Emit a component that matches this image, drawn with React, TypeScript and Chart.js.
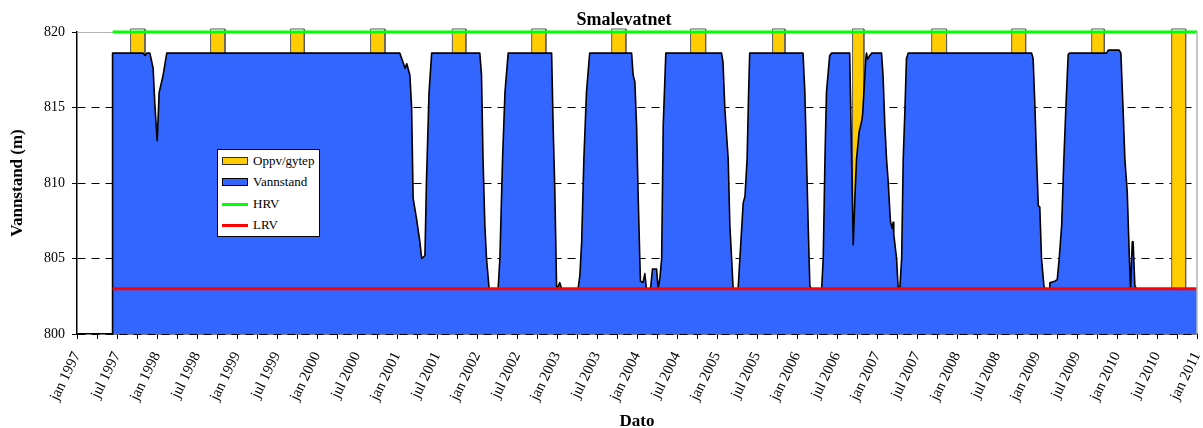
import React, { useEffect, useRef } from 'react';
import { Chart, registerables } from 'chart.js';

Chart.register(...registerables);

const FONT = "'Liberation Serif', 'Times New Roman', serif";
const titleText = 'Smalevatnet';
const xTitle = 'Dato';
const yTitle = 'Vannstand (m)';
const seriesNames = ['Oppv/gytep', 'Vannstand', 'HRV', 'LRV'];

const axisStart = 1997; // months counted from jan 1997
const xMin = 0;
const xMax = 168;
const yMin = 800;
const yMax = 820;
const yStep = 5;

const xTickLabels = [
  'jan 1997', 'jul 1997', 'jan 1998', 'jul 1998', 'jan 1999', 'jul 1999', 'jan 2000', 'jul 2000',
  'jan 2001', 'jul 2001', 'jan 2002', 'jul 2002', 'jan 2003', 'jul 2003', 'jan 2004', 'jul 2004',
  'jan 2005', 'jul 2005', 'jan 2006', 'jul 2006', 'jan 2007', 'jul 2007', 'jan 2008', 'jul 2008',
  'jan 2009', 'jul 2009', 'jan 2010', 'jul 2010', 'jan 2011',
];

const HRV = 820;
const LRV = 803;
const regStart = '1997-06-11';
const regEnd = '2011-01-01';

const levelDates = [
  '1997-06-11', '1997-06-11', '1997-10-29', '1997-11-07', '1997-11-16', '1997-11-29', '1997-12-14', '1997-12-22',
  '1998-01-02', '1998-01-11', '1998-01-29', '1998-02-14',
  '2001-01-14', '2001-01-29', '2001-02-07', '2001-02-14', '2001-02-27', '2001-03-07', '2001-03-14', '2001-03-30',
  '2001-04-14', '2001-04-22', '2001-05-07', '2001-05-14', '2001-05-26', '2001-06-07',
  '2002-01-14', '2002-01-22', '2002-01-29', '2002-02-06', '2002-02-13', '2002-02-24', '2002-04-06', '2002-04-14',
  '2002-04-26', '2002-05-07', '2002-05-22',
  '2002-12-07', '2002-12-14', '2002-12-22', '2002-12-30', '2003-01-02', '2003-01-14', '2003-01-22', '2003-04-06',
  '2003-04-14', '2003-04-22', '2003-05-02', '2003-05-14', '2003-05-29',
  '2003-12-07', '2003-12-14', '2003-12-22', '2003-12-30', '2004-01-06', '2004-01-14', '2004-01-17', '2004-01-29',
  '2004-02-06', '2004-02-13', '2004-03-02', '2004-03-11', '2004-03-30', '2004-04-06', '2004-04-14', '2004-04-22',
  '2004-04-29', '2004-05-11',
  '2005-01-22', '2005-01-29', '2005-02-06', '2005-02-20', '2005-02-27', '2005-03-07', '2005-03-14', '2005-04-06',
  '2005-04-14', '2005-04-29', '2005-05-07', '2005-05-17', '2005-05-24', '2005-05-29',
  '2006-01-29', '2006-02-06', '2006-02-13', '2006-02-20', '2006-02-27', '2006-03-04', '2006-04-22', '2006-04-29',
  '2006-05-07', '2006-05-14', '2006-05-29', '2006-06-07',
  '2006-08-29', '2006-09-14', '2006-09-22', '2006-09-29', '2006-10-11', '2006-10-22', '2006-10-27', '2006-11-04',
  '2006-11-11', '2006-11-14', '2006-11-19', '2006-11-29', '2006-12-07',
  '2007-01-22', '2007-01-29', '2007-02-06', '2007-02-13', '2007-02-20', '2007-02-27', '2007-03-02', '2007-03-10',
  '2007-03-14', '2007-03-17', '2007-03-30', '2007-04-06', '2007-04-14', '2007-04-22', '2007-04-29', '2007-05-07',
  '2007-05-14', '2007-05-22',
  '2008-12-07', '2008-12-14', '2008-12-22', '2008-12-30', '2009-01-07', '2009-01-14', '2009-01-22', '2009-02-02',
  '2009-02-06', '2009-02-24', '2009-02-27', '2009-03-22', '2009-04-02', '2009-04-11', '2009-04-22', '2009-05-02',
  '2009-05-11', '2009-05-22', '2009-05-29',
  '2009-11-14', '2009-11-22', '2010-01-11', '2010-01-19', '2010-01-29', '2010-02-06', '2010-02-16', '2010-02-25',
  '2010-03-02', '2010-03-10', '2010-03-14', '2010-03-22', '2010-03-29', '2011-01-01',
];

const levelValues = [
  800, 818.6, 818.6, 818.45, 818.6, 818.6, 817.6, 815.2,
  812.8, 816.0, 817.1, 818.6,
  818.6, 818.0, 817.6, 817.9, 817.15, 815.0, 809.0, 807.6,
  806.1, 805.0, 805.2, 810.1, 816.0, 818.6,
  818.6, 817.15, 811.6, 807.2, 805.0, 803.0, 803.0, 805.0,
  811.6, 816.0, 818.6,
  818.6, 813.8, 809.4, 803.2, 803.0, 803.4, 803.0, 803.0,
  803.9, 806.1, 811.6, 816.0, 818.6,
  818.6, 817.15, 816.7, 813.8, 809.4, 805.0, 803.5, 803.4,
  804.0, 803.0, 803.0, 804.3, 804.3, 803.0, 803.7, 805.0,
  813.8, 818.6,
  818.6, 818.0, 814.9, 811.6, 807.2, 805.0, 803.0, 803.0,
  805.0, 808.7, 809.1, 811.6, 816.0, 818.6,
  818.6, 816.0, 811.6, 807.2, 803.2, 803.0, 803.0, 805.0,
  811.6, 816.0, 818.45, 818.6,
  818.6, 805.9, 809.2, 811.6, 813.4, 814.05, 814.5, 816.5,
  818.3, 818.6, 818.2, 818.45, 818.6,
  818.6, 817.15, 813.8, 811.6, 810.1, 808.1, 807.4, 807.0,
  807.4, 806.6, 805.0, 803.1, 803.1, 805.0, 811.6, 814.9,
  818.25, 818.6,
  818.6, 818.25, 815.2, 811.6, 808.5, 808.4, 805.0, 803.2,
  803.0, 803.0, 803.4, 803.5, 803.6, 805.0, 807.2, 811.6,
  814.9, 818.5, 818.6,
  818.6, 818.8, 818.8, 818.6, 815.0, 811.6, 809.4, 805.0,
  803.0, 806.1, 806.1, 803.2, 803.0, 803.0,
];

const spawnStart = [
  '1997-09-02', '1998-09-02', '1999-09-02', '2000-09-02', '2001-09-10', '2002-09-07', '2003-09-07',
  '2004-09-02', '2005-09-11', '2006-09-11', '2007-09-07', '2008-09-07', '2009-09-07', '2010-09-07',
];
const spawnEnd = [
  '1997-11-07', '1998-11-07', '1999-11-04', '2000-11-07', '2001-11-11', '2002-11-11', '2003-11-11',
  '2004-11-10', '2005-11-07', '2006-11-02', '2007-11-14', '2008-11-10', '2009-11-04', '2010-11-10',
];
const spawnTop = 820.2;

const COLORS = {
  spawn: '#FFCC00',
  spawnBorder: '#5c5c5c',
  level: '#3366FF',
  hrv: '#00FF00',
  lrv: '#FF0000',
};

function toMonths(d: string): number {
  const [y, m, day] = d.split('-').map(Number);
  const dim = new Date(y, m, 0).getDate();
  return (y - axisStart) * 12 + (m - 1) + (day - 1) / dim;
}

const framePlugin = {
  id: 'plotFrame',
  beforeDatasetsDraw(chart: any) {
    const { ctx, chartArea } = chart;
    ctx.save();
    ctx.strokeStyle = '#b4b4b4';
    ctx.lineWidth = 1;
    ctx.beginPath();
    ctx.moveTo(chartArea.left, chartArea.top + 0.5);
    ctx.lineTo(chartArea.right, chartArea.top + 0.5);
    ctx.stroke();
    ctx.restore();
  },
  afterDatasetsDraw(chart: any) {
    const { ctx, chartArea } = chart;
    ctx.save();
    ctx.strokeStyle = '#b4b4b4';
    ctx.lineWidth = 1.5;
    ctx.beginPath();
    ctx.moveTo(chartArea.right, chartArea.top);
    ctx.lineTo(chartArea.right, chartArea.bottom);
    ctx.stroke();
    ctx.restore();
  },
};

const titlePlugin = {
  id: 'mainTitle',
  afterDraw(chart: any) {
    const { ctx } = chart;
    ctx.save();
    ctx.font = `bold 18px ${FONT}`;
    ctx.fillStyle = '#000';
    ctx.textAlign = 'center';
    ctx.textBaseline = 'alphabetic';
    ctx.fillText(titleText, 624, 25);
    ctx.restore();
  },
};

export default function App() {
  const canvasRef = useRef<HTMLCanvasElement | null>(null);

  useEffect(() => {
    if (!canvasRef.current) return;
    Chart.defaults.font.family = FONT;
    Chart.defaults.color = '#000';

    const levelData = levelDates.map((d, i) => ({ x: toMonths(d), y: levelValues[i] }));
    const spawnData: { x: number; y: number | null }[] = [];
    spawnStart.forEach((s, i) => {
      const a = toMonths(s);
      const b = toMonths(spawnEnd[i]);
      spawnData.push({ x: a, y: yMin }, { x: a, y: spawnTop }, { x: b, y: spawnTop }, { x: b, y: yMin }, { x: b, y: null });
    });
    const hrvData = [{ x: toMonths(regStart), y: HRV }, { x: toMonths(regEnd), y: HRV }];
    const lrvData = [{ x: toMonths(regStart), y: LRV }, { x: toMonths(regEnd), y: LRV }];

    const chart = new Chart(canvasRef.current, {
      type: 'line',
      data: {
        datasets: [
          {
            label: seriesNames[0], data: spawnData as any, order: 4, fill: 'start',
            backgroundColor: COLORS.spawn, borderColor: COLORS.spawnBorder, borderWidth: 1,
            pointRadius: 0, tension: 0, spanGaps: false, clip: 6 as any,
          },
          {
            label: seriesNames[1], data: levelData, order: 3, fill: 'start',
            backgroundColor: COLORS.level, borderColor: '#000', borderWidth: 1.6,
            pointRadius: 0, tension: 0, borderJoinStyle: 'round',
          },
          {
            label: seriesNames[2], data: hrvData, order: 2, fill: false,
            borderColor: COLORS.hrv, borderWidth: 3, pointRadius: 0, clip: 4 as any,
          },
          {
            label: seriesNames[3], data: lrvData, order: 1, fill: false,
            borderColor: COLORS.lrv, borderWidth: 3, pointRadius: 0,
          },
        ],
      },
      options: {
        animation: false,
        responsive: false,
        events: [],
        layout: { padding: { left: 0, right: 6, top: 32, bottom: 0 } },
        plugins: {
          legend: { display: false },
          tooltip: { enabled: false },
          title: { display: false },
        },
        scales: {
          x: {
            type: 'linear',
            min: xMin,
            max: xMax,
            z: 1,
            afterFit: (s: any) => { s.height = 94; s.paddingLeft = 0; s.paddingRight = 0; },
            ticks: {
              stepSize: 3,
              autoSkip: false,
              minRotation: 64,
              maxRotation: 64,
              padding: 10,
              color: '#000',
              font: { size: 15, family: FONT },
              callback: (v: any) => (Number(v) % 6 === 0 ? xTickLabels[Number(v) / 6] : ''),
            },
            grid: { drawOnChartArea: false, drawTicks: true, tickLength: 5, color: '#000', tickColor: '#000' },
            border: { display: true, color: '#000', width: 1.5 },
            title: {
              display: true, text: xTitle, color: '#000',
              font: { size: 17, weight: 'bold', family: FONT, lineHeight: 0.8 },
              padding: { top: 0, bottom: 0 },
            },
          },
          y: {
            min: yMin,
            max: yMax,
            afterFit: (s: any) => { s.width = 77; },
            ticks: { stepSize: yStep, padding: 7, color: '#000', font: { size: 14, family: FONT } },
            grid: { color: '#000', lineWidth: 1, tickLength: 5, tickColor: '#000', tickBorderDash: [] } as any,
            border: { display: true, dash: [8, 6], color: '#000', width: 1.5 },
            title: {
              display: true, text: yTitle, color: '#000', align: 'center',
              font: { size: 17, weight: 'bold', family: FONT },
              padding: { top: 7, bottom: 0 },
            },
          },
        },
      },
      plugins: [framePlugin, titlePlugin],
    });
    return () => chart.destroy();
  }, []);

  const legendRows = [
    { name: seriesNames[0], kind: 'box', color: COLORS.spawn, border: '#333' },
    { name: seriesNames[1], kind: 'box', color: COLORS.level, border: '#000' },
    { name: seriesNames[2], kind: 'line', color: COLORS.hrv, border: '' },
    { name: seriesNames[3], kind: 'line', color: COLORS.lrv, border: '' },
  ];
  const rowCenters = [11.7, 33, 55.3, 76.3];

  return (
    <div style={{ position: 'absolute', left: 0, top: 0, width: 1203, height: 428 }}>
      <canvas ref={canvasRef} width={1203} height={428} style={{ width: 1203, height: 428, display: 'block' }} />
      <div
        style={{
          position: 'absolute', left: 217, top: 149, width: 103, height: 88, boxSizing: 'border-box',
          border: '1px solid #000', background: '#fff', fontFamily: FONT, fontSize: 13, color: '#000',
        }}
      >
        {legendRows.map((r, i) => (
          <React.Fragment key={r.name}>
            {r.kind === 'box' ? (
              <div style={{
                position: 'absolute', left: 4, top: rowCenters[i] - 1 - 4, width: 26, height: 8,
                boxSizing: 'border-box', background: r.color, border: `1px solid ${r.border}`,
              }} />
            ) : (
              <div style={{
                position: 'absolute', left: 4, top: rowCenters[i] - 1 - 1.5, width: 26, height: 3, background: r.color,
              }} />
            )}
            <div style={{
              position: 'absolute', left: 35, top: rowCenters[i] - 1 - 8, height: 16, lineHeight: '16px', whiteSpace: 'nowrap',
            }}>{r.name}</div>
          </React.Fragment>
        ))}
      </div>
    </div>
  );
}
